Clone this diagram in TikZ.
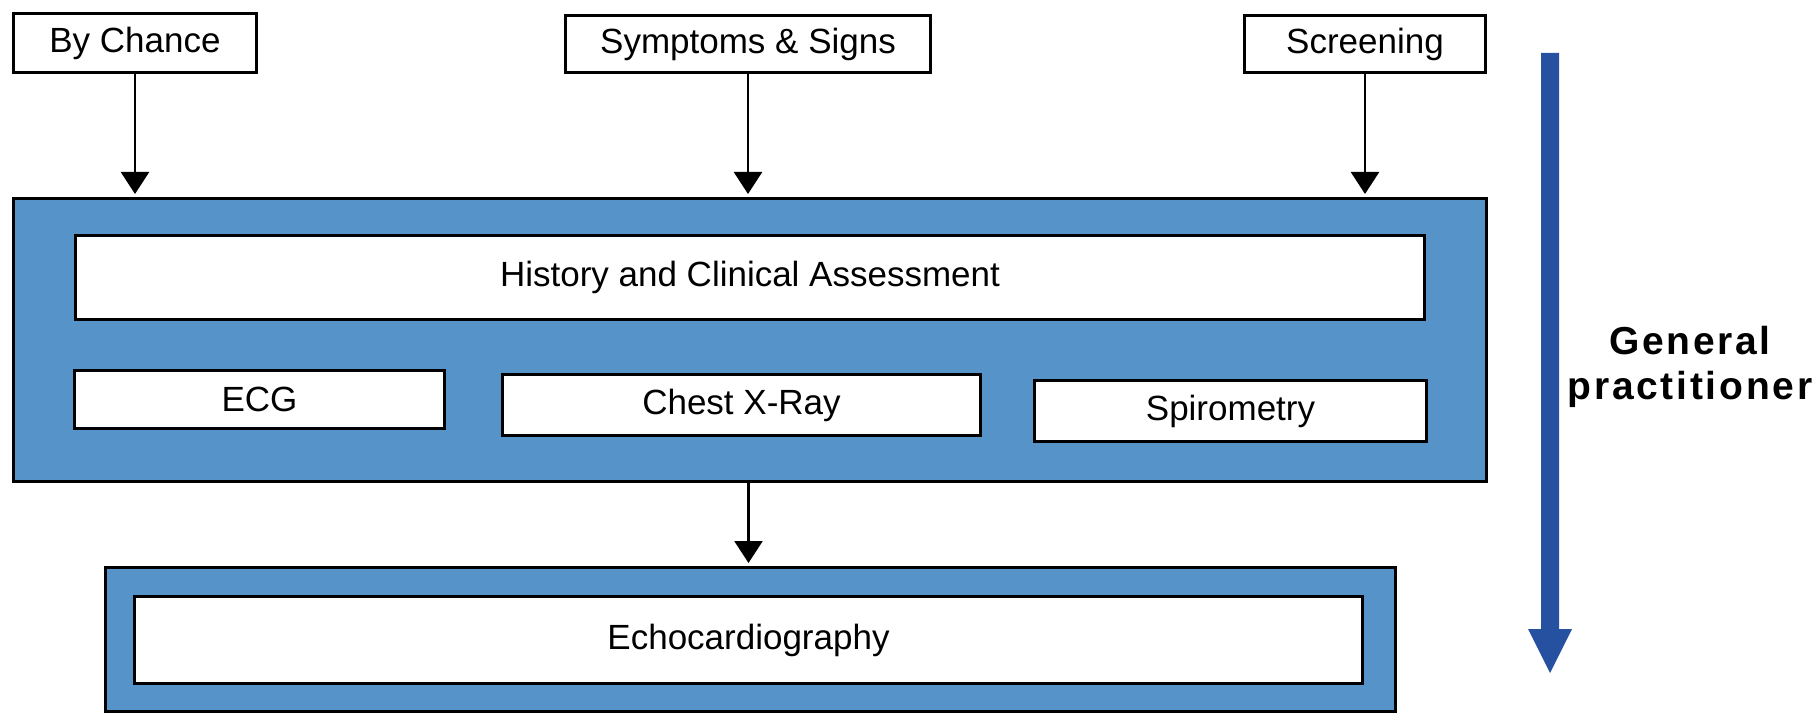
\documentclass[tikz,border=0pt]{standalone}
\usepackage{fontspec}
\setmainfont{Liberation Sans}
\newfontfamily\gpfont[LetterSpace=7]{Liberation Sans Bold}
\usetikzlibrary{arrows.meta}
\definecolor{gpblue}{RGB}{85,147,201}
\definecolor{arrowblue}{RGB}{38,80,160}
\tikzset{
  whitebox/.style={draw=black, line width=3pt, fill=white, inner sep=0pt,
    font=\fontsize{35}{40}\selectfont},
  bluebox/.style={draw=black, line width=3pt, fill=gpblue, inner sep=0pt},
  conn/.style={draw=black, line width=2.5pt, -{Triangle[width=28pt,length=22pt]}, shorten >=3pt}
}
\begin{document}
\begin{tikzpicture}[x=1pt,y=-1pt]
\useasboundingbox (0,0) rectangle (1816,714);
% top boxes
\node[whitebox, minimum width=243pt, minimum height=59pt] (chance) at (135,43) {By Chance};
\node[whitebox, minimum width=365pt, minimum height=57pt] (symptoms) at (748,44) {Symptoms \& Signs};
\node[whitebox, minimum width=241pt, minimum height=57pt] (screening) at (1365,44) {Screening};
% GP box
\node[bluebox, minimum width=1473pt, minimum height=283pt] (gp) at (750,340) {};
\node[whitebox, minimum width=1349pt, minimum height=84pt] (history) at (750,277.5) {History and Clinical Assessment};
\node[whitebox, minimum width=370pt, minimum height=58pt] (ecg) at (259.5,399.5) {ECG};
\node[whitebox, minimum width=478pt, minimum height=61pt] (chest) at (741.5,405) {Chest X-Ray};
\node[whitebox, minimum width=392pt, minimum height=61pt] (spiro) at (1230.5,411) {Spirometry};
% Echo box
\node[bluebox, minimum width=1290pt, minimum height=144pt] (echoouter) at (750.5,639.5) {};
\node[whitebox, minimum width=1228pt, minimum height=87pt] (echo) at (748.5,640) {Echocardiography};
% connectors
\draw[conn] (chance.south) -- (chance.south |- gp.north);
\draw[conn] (symptoms.south) -- (symptoms.south |- gp.north);
\draw[conn] (screening.south) -- (screening.south |- gp.north);
\draw[conn] (gp.south -| echo.north) -- (echoouter.north -| echo.north);
% big arrow
\fill[arrowblue] (1541,53) -- (1559,53) -- (1559,629) -- (1572,629) -- (1550,673) -- (1528,629) -- (1541,629) -- cycle;
\node[align=center, inner sep=0pt, font=\gpfont\fontsize{39}{45}\selectfont] (gptext) at (1690,367) {General\\practitioner};
\end{tikzpicture}
\end{document}
